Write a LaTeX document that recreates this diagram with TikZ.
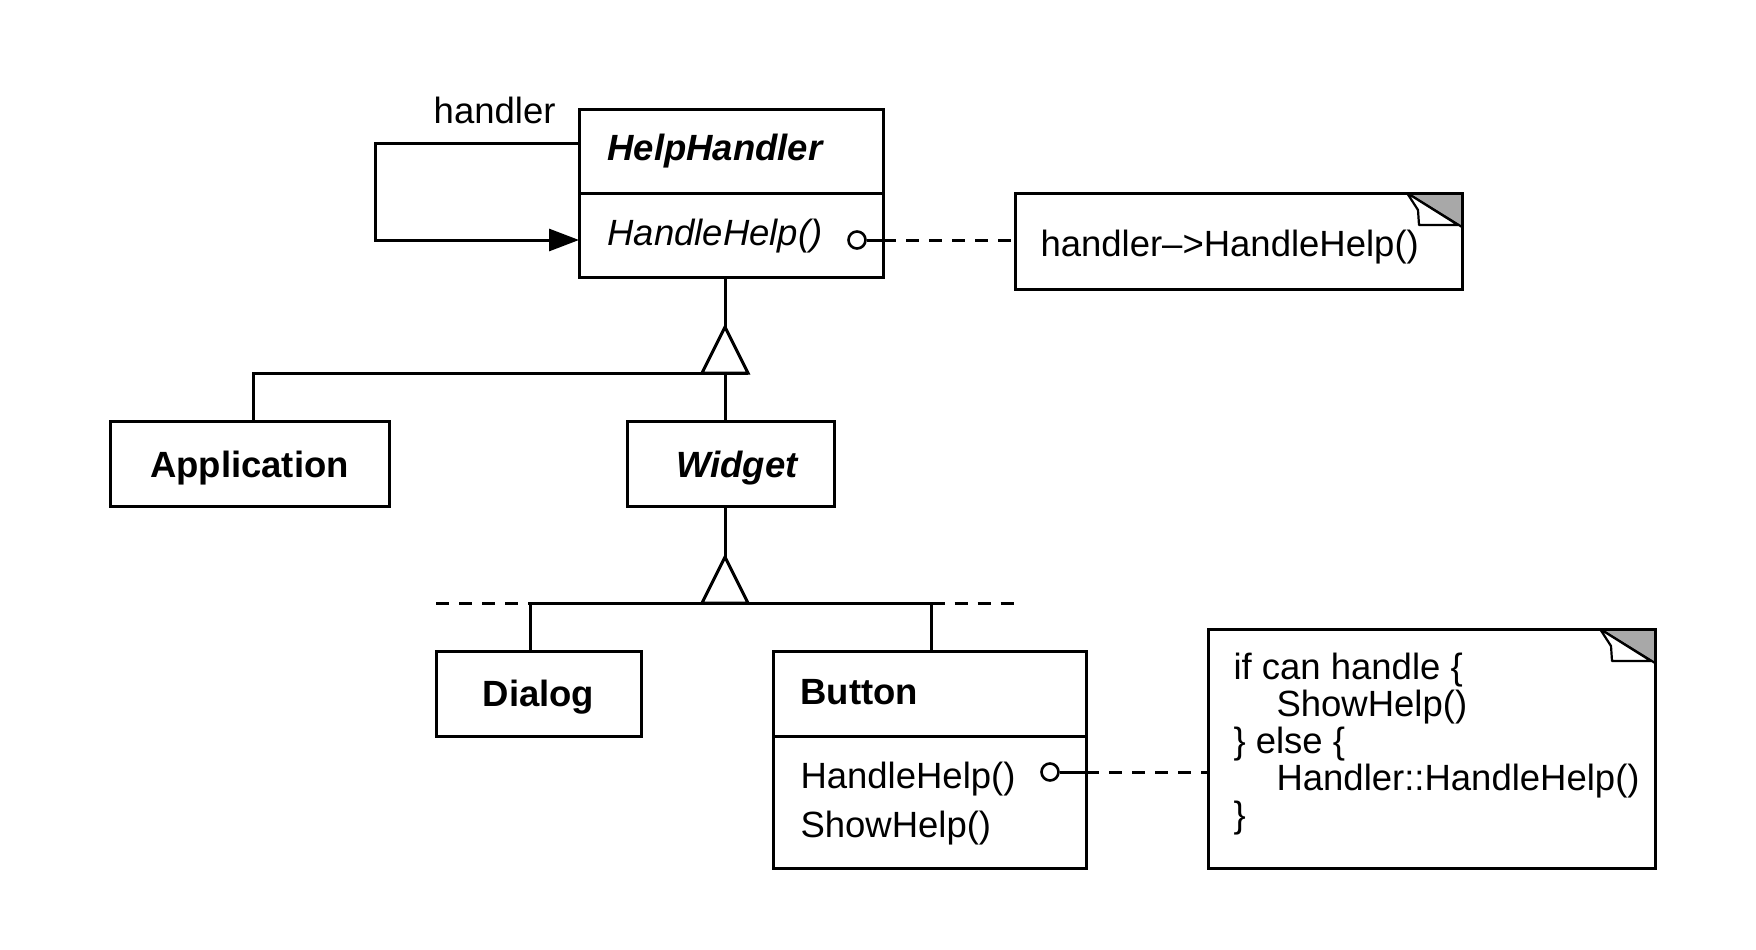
\documentclass[tikz,border=0pt]{standalone}
\usepackage{fontspec}
\setmainfont{Liberation Sans}
\usetikzlibrary{arrows.meta,calc}
\definecolor{eargray}{gray}{0.66}
\newcommand\noteear[1]{%
  \fill[eargray] ($(#1.north east)+(-55,0)$) -- (#1.north east) -- ($(#1.north east)+(0,34)$) -- cycle;
  \draw[line width=2.2pt] ($(#1.north east)+(-55,0)$) -- ($(#1.north east)+(0,34)$);
  \draw[line width=2.2pt, fill=white, line join=round] ($(#1.north east)+(-55,0)$) -- ($(#1.north east)+(-44,17)$) -- ($(#1.north east)+(-43,32)$) -- ($(#1.north east)+(-4,32)$) -- cycle;
  \draw[line width=3pt] (#1.north west) rectangle (#1.south east);
}
\begin{document}
\begin{tikzpicture}[x=1pt,y=-1pt, line width=3pt,
  box/.style={draw, line width=3pt, inner sep=0pt, outer sep=0pt, anchor=north west},
  txt/.style={inner sep=0pt, font=\fontsize{36.5}{44}\selectfont},
  dashlink/.style={dash pattern=on 13pt off 10pt},
  port/.style={circle, draw, line width=2.6pt, fill=white, minimum size=17pt, inner sep=0pt}]
\useasboundingbox (0,0) rectangle (1756,950);

% HelpHandler
\node[box, minimum width=304pt, minimum height=84pt] (hhT) at (579,109) {};
\node[box, minimum width=304pt, minimum height=84pt] (hhB) at (579,193) {};
\node[txt, anchor=base west, font=\fontsize{36.5}{44}\selectfont\bfseries\itshape] (hhName) at (606,160) {HelpHandler};
\node[txt, anchor=base west, font=\fontsize{36.5}{44}\selectfont\itshape] (hhOp) at (606,245) {HandleHelp()};

% note 1
\node[box, minimum width=447pt, minimum height=96pt] (n1) at (1015,193) {};
\noteear{n1}
\node[txt, anchor=base west] (n1t) at (1039,256) {handler–>HandleHelp()};

% port and dashed link 1
\node[port] (c1) at (857,240) {};
\draw (c1) -- (c1 -| hhB.east);
\draw[dashlink] (c1 -| hhB.east) -- (c1 -| n1.west);

% self association
\node[txt, anchor=base east] (hlab) at (557,123) {handler};
\draw[-{Triangle[length=30pt,width=22pt]}] ([yshift=8pt]hhT.west) -- ++(-204,0) |- ([yshift=-5pt]hhB.west);

% Application, Widget
\node[box, minimum width=279pt, minimum height=85pt] (app) at (110,421) {};
\node[txt, anchor=base, font=\fontsize{36.5}{44}\selectfont\bfseries] (appt) at (app.center |- 0,477) {Application};
\node[box, minimum width=207pt, minimum height=85pt] (wid) at (627,421) {};
\node[txt, anchor=base, font=\fontsize{36.5}{44}\selectfont\bfseries\itshape] (widt) at (737,477) {Widget};

% inheritance 1
\coordinate (t1) at (725,327);
\coordinate (b1) at (725,373);
\draw (hhB.south -| t1) -- (t1);
\draw ([xshift=4pt]app.north) |- ($(b1)+(23,0)$);
\draw (b1) -- (wid.north -| b1);
\draw[fill=white, line join=miter] (t1) -- ($(b1)+(-23,0)$) -- ($(b1)+(23,0)$) -- cycle;

% Dialog, Button
\node[box, minimum width=205pt, minimum height=85pt] (dlg) at (436,651) {};
\node[txt, anchor=base, font=\fontsize{36.5}{44}\selectfont\bfseries] (dlgt) at (dlg.center |- 0,706) {Dialog};
\node[box, minimum width=313pt, minimum height=85pt] (btnT) at (773,651) {};
\node[box, minimum width=313pt, minimum height=132pt] (btnB) at (773,736) {};
\node[txt, anchor=base west, font=\fontsize{36.5}{44}\selectfont\bfseries] (btnt) at (799,704) {Button};
\node[txt, anchor=base west] (btnop1) at (799,788) {HandleHelp()};
\node[txt, anchor=base west] (btnop2) at (799,837) {ShowHelp()};

% inheritance 2
\coordinate (t2) at (725,557);
\coordinate (b2) at (725,603);
\coordinate (dl) at (436,603);
\coordinate (dr) at (1017,603);
\draw (wid.south -| t2) -- (t2);
\draw ([xshift=-8pt]dlg.north) |- (b2) -| ([xshift=2pt]btnT.north);
\draw[dashlink] (dl) -- ([xshift=-8pt]dlg.north |- b2);
\draw[dashlink] ([xshift=2pt]btnT.north |- b2) -- (dr);
\draw[fill=white, line join=miter] (t2) -- ($(b2)+(-23,0)$) -- ($(b2)+(23,0)$) -- cycle;

% note 2
\node[box, minimum width=447pt, minimum height=239pt] (n2) at (1208,629) {};
\noteear{n2}
\node[txt, anchor=base west] (l1) at (1232,679) {if can handle \{};
\node[txt, anchor=base west] (l2) at (1275,716) {ShowHelp()};
\node[txt, anchor=base west] (l3) at (1232,753) {\} else \{};
\node[txt, anchor=base west] (l4) at (1275,790) {Handler::HandleHelp()};
\node[txt, anchor=base west] (l5) at (1232,827) {\}};

% port and dashed link 2
\node[port] (c2) at (1050,772) {};
\draw (c2) -- (c2 -| btnB.east);
\draw[dashlink] (c2 -| btnB.east) -- (c2 -| n2.west);
\end{tikzpicture}
\end{document}
